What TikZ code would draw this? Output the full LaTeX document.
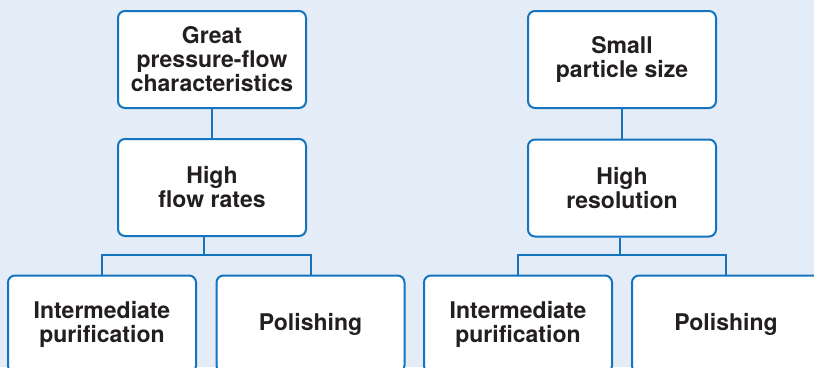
\documentclass[tikz,border=0pt]{standalone}
\usepackage{fontspec}
\setmainfont{TeX Gyre Heros}
\definecolor{bgblue}{RGB}{228,236,247}
\definecolor{lineblue}{RGB}{20,116,190}
\definecolor{txt}{RGB}{35,31,32}
\begin{document}
\begin{tikzpicture}[x=1pt,y=-1pt,
  box/.style={draw=lineblue, line width=2pt, fill=white, rounded corners=7pt,
    minimum width=188pt, minimum height=97pt, inner sep=0pt, align=center,
    font=\fontsize{23}{24}\selectfont\bfseries, text=txt},
  conn/.style={draw=lineblue, line width=2pt}]
\fill[bgblue] (0,0) rectangle (814,367);
\useasboundingbox (0,0) rectangle (814,367);
\clip (0,0) rectangle (814,367);
% left tree
\node[box] (lt) at (212,59.5) {Great\\pressure-flow\\characteristics};
\node[box] (lm) at (212,187.5) {High\\flow rates};
\node[box] (lb1) at (102,324) {Intermediate\\purification};
\node[box] (lb2) at (310.5,324) {Polishing};
\coordinate (lj) at (204,255);
% right tree
\node[box] (rt) at (622,59.5) {Small\\particle size};
\node[box] (rm) at (622,188) {High\\resolution};
\node[box] (rb1) at (518,324) {Intermediate\\purification};
\node[box] (rb2) at (726,324) {Polishing};
\coordinate (rj) at (620,255);
% connectors
\draw[conn] (lt.south) -- (lm.north);
\draw[conn] (lm.south -| lj) -- (lj);
\draw[conn] (lb1.north) |- (lj) -| (lb2.north);
\draw[conn] (rt.south) -- (rm.north);
\draw[conn] (rm.south -| rj) -- (rj);
\draw[conn] (rb1.north) |- (rj) -| (rb2.north);
\end{tikzpicture}
\end{document}
